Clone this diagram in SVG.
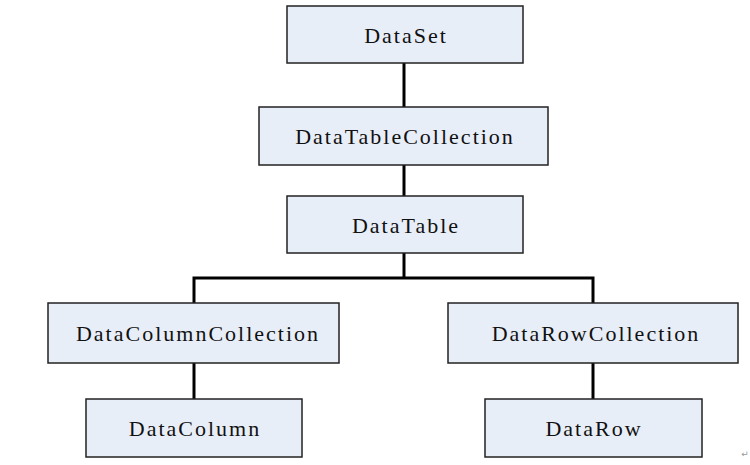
<svg xmlns="http://www.w3.org/2000/svg" width="750" height="465" viewBox="0 0 750 465">
<style>
.box{fill:#e8eef8;stroke:#222;stroke-width:1.5}
.lbl{font-family:"Liberation Serif","Times New Roman",serif;font-size:22px;letter-spacing:2px;fill:#111;text-anchor:middle;dominant-baseline:central}
.con{stroke:#000;stroke-width:3;fill:none}
</style>
<rect width="750" height="465" fill="#fff"/>
<g id="connectors">
<line class="con" x1="404" y1="63" x2="404" y2="107"/>
<line class="con" x1="404" y1="165" x2="404" y2="196"/>
<line class="con" x1="404" y1="253" x2="404" y2="278"/>
<polyline class="con" points="194,303 194,278 593,278 593,303"/>
<line class="con" x1="194" y1="363" x2="194" y2="399"/>
<line class="con" x1="593" y1="363" x2="593" y2="399"/>
</g>
<g id="DataSet"><rect class="box" x="287" y="6" width="236" height="57"/><text class="lbl" x="406" y="35">DataSet</text></g>
<g id="DataTableCollection"><rect class="box" x="259" y="107" width="289" height="58"/><text class="lbl" x="405" y="136">DataTableCollection</text></g>
<g id="DataTable"><rect class="box" x="287" y="196" width="236" height="57"/><text class="lbl" x="406" y="225">DataTable</text></g>
<g id="DataColumnCollection"><rect class="box" x="48" y="303" width="291" height="60"/><text class="lbl" x="198" y="333">DataColumnCollection</text></g>
<g id="DataColumn"><rect class="box" x="86" y="399" width="216" height="58"/><text class="lbl" x="195" y="428">DataColumn</text></g>
<g id="DataRowCollection"><rect class="box" x="448" y="303" width="290" height="60"/><text class="lbl" x="596" y="333">DataRowCollection</text></g>
<g id="DataRow"><rect class="box" x="485" y="399" width="217" height="58"/><text class="lbl" x="594" y="428">DataRow</text></g>
<text x="745" y="454" font-family="DejaVu Sans,sans-serif" font-size="9" fill="#999" text-anchor="middle" dominant-baseline="central">↵</text>
</svg>
